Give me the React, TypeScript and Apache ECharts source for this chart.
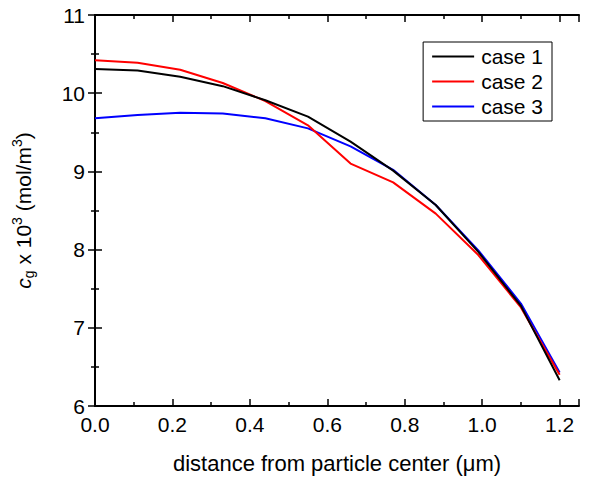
import React, { useEffect, useRef } from "react";
import * as echarts from "echarts";

const xValues = [0, 0.11, 0.22, 0.33, 0.44, 0.55, 0.66, 0.77, 0.88, 0.99, 1.1, 1.2];
const case1 = [10.31, 10.29, 10.21, 10.09, 9.91, 9.7, 9.38, 9.01, 8.57, 7.97, 7.28, 6.33];
const case2 = [10.42, 10.39, 10.3, 10.13, 9.9, 9.59, 9.1, 8.86, 8.46, 7.93, 7.26, 6.4];
const case3 = [9.68, 9.72, 9.75, 9.74, 9.68, 9.55, 9.32, 9.02, 8.57, 7.99, 7.31, 6.43];
const seriesNames = ["case 1", "case 2", "case 3"];
const seriesColors = ["#000000", "#ff0000", "#0000ff"];
const seriesData = [case1, case2, case3];

const FONT = "Liberation Sans, Arial, sans-serif";
const FS = 21;
const FS_TITLE = 22;

export default function App() {
  const ref = useRef<HTMLDivElement>(null);
  useEffect(() => {
    if (!ref.current) return;
    const chart = echarts.init(ref.current, undefined, { renderer: "svg" });
    const axisLine = { show: true, lineStyle: { color: "#000", width: 2 } };
    const axisTick = { show: true, inside: true, length: 7, lineStyle: { color: "#000", width: 1.5 } };
    const minorTick = { show: true, splitNumber: 2, length: 4, lineStyle: { color: "#000", width: 1.5 } };
    const xBase = { type: "value", min: 0, max: 1.25, interval: 0.2, splitLine: { show: false }, axisLine, axisTick, minorTick };
    const yBase = { type: "value", min: 6, max: 11, interval: 1, splitLine: { show: false }, axisLine, axisTick, minorTick };
    chart.setOption({
      animation: false,
      textStyle: { fontFamily: FONT },
      grid: { left: 95, right: 11, top: 15, bottom: 71, containLabel: false, outerBoundsMode: "none" },
      legend: {
        data: seriesNames,
        orient: "vertical",
        right: 38,
        top: 42,
        itemWidth: 42,
        itemHeight: 10,
        itemGap: 4,
        padding: [4, 9, 4, 9],
        borderColor: "#000",
        borderWidth: 1,
        borderRadius: 0,
        icon: "path://M0,4 L42,4 L42,6 L0,6 Z",
        textStyle: { fontSize: FS, color: "#000", fontFamily: FONT, padding: [0, 0, 0, 2] },
      },
      xAxis: [
        {
          ...xBase,
          position: "bottom",
          name: "distance from particle center (μm)",
          nameLocation: "middle",
          nameGap: 46,
          nameTextStyle: { fontSize: FS_TITLE, color: "#000", fontFamily: FONT },
          axisLabel: {
            fontSize: FS,
            color: "#000",
            margin: 8,
            fontFamily: FONT,
            formatter: (v: number) => (Math.abs(Math.round(v * 5) - v * 5) < 1e-6 ? v.toFixed(1) : ""),
          },
        },
        { ...xBase, position: "top", axisLabel: { show: false } },
      ],
      yAxis: [
        {
          ...yBase,
          position: "left",
          name: "{i|c}{sub|g}{n| x 10}{sup|3}{n| (mol/m}{sup|3}{n|)}",
          nameLocation: "middle",
          nameGap: 58,
          nameTextStyle: {
            fontSize: FS,
            color: "#000",
            fontFamily: FONT,
            rich: {
              n: { fontSize: FS, fontFamily: FONT, color: "#000", lineHeight: 28 },
              i: { fontSize: FS, fontFamily: FONT, fontStyle: "italic", color: "#000", lineHeight: 28 },
              sub: { fontSize: 14, fontFamily: FONT, color: "#000", lineHeight: 28, padding: [12, 0, 0, 0] },
              sup: { fontSize: 14, fontFamily: FONT, color: "#000", lineHeight: 28, padding: [0, 0, 12, 0] },
            },
          },
          axisLabel: { fontSize: FS, color: "#000", margin: 10, fontFamily: FONT },
        },
        { ...yBase, position: "right", axisLabel: { show: false } },
      ],
      series: seriesData.map((d, i) => ({
        name: seriesNames[i],
        type: "line",
        data: xValues.map((x, j) => [x, d[j]]),
        showSymbol: false,
        symbol: "none",
        lineStyle: { color: seriesColors[i], width: 2 },
        itemStyle: { color: seriesColors[i] },
        z: 3 - i,
      })),
    });
    return () => chart.dispose();
  }, []);
  return (
    <div
      ref={ref}
      style={{ position: "absolute", left: 0, top: 0, width: 590, height: 477, background: "#fff" }}
    />
  );
}
